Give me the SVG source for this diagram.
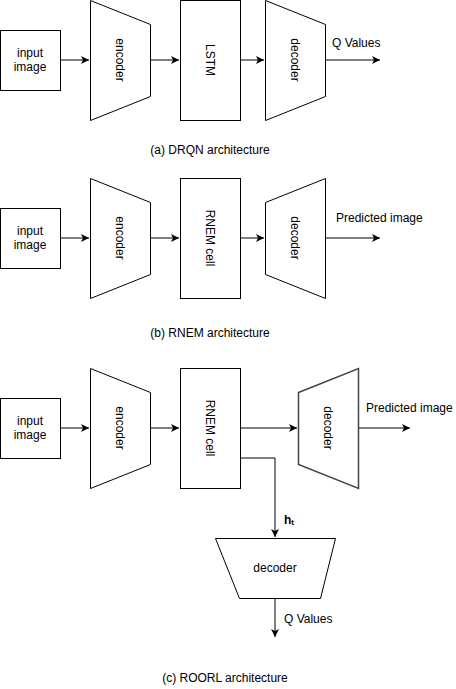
<svg xmlns="http://www.w3.org/2000/svg" width="456" height="689" viewBox="0 0 456 689">
<defs>
<marker id="arr" markerWidth="10" markerHeight="10" refX="8" refY="4" orient="auto" markerUnits="userSpaceOnUse">
<path d="M0,0 L8,4 L0,8 L2,4 Z" fill="#000"/>
</marker>
</defs>
<style>
.shape{fill:#fff;stroke:#000;stroke-width:1}
.gray{stroke:#444;stroke-width:1.5}
.t{font-family:"Liberation Sans",Arial,sans-serif;font-size:12px;fill:#000}
.c{text-anchor:middle}
.conn{fill:none;stroke:#000;stroke-width:1;marker-end:url(#arr)}
</style>
<rect width="456" height="689" fill="#fff"/>

<g id="connectors">
<path class="conn" d="M60,60 L89,60"/>
<path class="conn" d="M150,60 L179,60"/>
<path class="conn" d="M240,60 L264,60"/>
<path class="conn" d="M325,60 L380,60"/>
<path class="conn" d="M60,238 L89,238"/>
<path class="conn" d="M150,238 L179,238"/>
<path class="conn" d="M240,238 L264,238"/>
<path class="conn" d="M325,238 L380,238"/>
<path class="conn" d="M60,428 L89,428"/>
<path class="conn" d="M150,428 L179,428"/>
<path class="conn" d="M240,428 L297,428"/>
<path class="conn" d="M358,428 L410,428"/>
<path class="conn" d="M240,458 L275,458 L275,537"/>
<path class="conn" d="M275,598 L275,637"/>
</g>

<g id="labels">
<text class="t" x="332" y="47">Q Values</text>
<text class="t" x="336" y="222">Predicted image</text>
<text class="t" x="366" y="412">Predicted image</text>
<text class="t" x="284" y="524" font-weight="bold">h<tspan font-size="8" dy="1">t</tspan></text>
<text class="t" x="284" y="623">Q Values</text>
</g>

<g id="input1"><rect class="shape" x="0.5" y="30.5" width="60" height="60"/><text class="t c" x="30" y="57">input</text><text class="t c" x="30" y="71">image</text></g>
<g id="encoder1"><path class="shape" d="M90.5,0.5 L150.5,24.5 L150.5,96.5 L90.5,120.5 Z"/><text class="t c" transform="translate(120,60) rotate(90)" y="4">encoder</text></g>
<g id="lstm"><rect class="shape" x="180.5" y="0.5" width="60" height="120"/><text class="t c" transform="translate(210,60) rotate(90)" y="4">LSTM</text></g>
<g id="decoder1"><path class="shape" d="M265.5,0.5 L325.5,24.5 L325.5,96.5 L265.5,120.5 Z"/><text class="t c" transform="translate(295,60) rotate(90)" y="4">decoder</text></g>
<text class="t c" x="210" y="154">(a) DRQN architecture</text>

<g id="input2"><rect class="shape" x="0.5" y="208.5" width="60" height="60"/><text class="t c" x="30" y="235">input</text><text class="t c" x="30" y="249">image</text></g>
<g id="encoder2"><path class="shape" d="M90.5,178.5 L150.5,202.5 L150.5,274.5 L90.5,298.5 Z"/><text class="t c" transform="translate(120,238) rotate(90)" y="4">encoder</text></g>
<g id="rnem2"><rect class="shape" x="180.5" y="178.5" width="60" height="120"/><text class="t c" transform="translate(210,238) rotate(90)" y="4">RNEM cell</text></g>
<g id="decoder2"><path class="shape" d="M265.5,202.5 L325.5,178.5 L325.5,298.5 L265.5,274.5 Z"/><text class="t c" transform="translate(295,238) rotate(90)" y="4">decoder</text></g>
<text class="t c" x="210" y="337">(b) RNEM architecture</text>

<g id="input3"><rect class="shape" x="0.5" y="398.5" width="60" height="60"/><text class="t c" x="30" y="425">input</text><text class="t c" x="30" y="439">image</text></g>
<g id="encoder3"><path class="shape" d="M90.5,368.5 L150.5,392.5 L150.5,464.5 L90.5,488.5 Z"/><text class="t c" transform="translate(120,428) rotate(90)" y="4">encoder</text></g>
<g id="rnem3"><rect class="shape" x="180.5" y="368.5" width="60" height="120"/><text class="t c" transform="translate(210,428) rotate(90)" y="4">RNEM cell</text></g>
<g id="decoder3"><path class="shape gray" d="M298.5,392.5 L358.5,368.5 L358.5,488.5 L298.5,464.5 Z"/><text class="t c" transform="translate(328,428) rotate(90)" y="4">decoder</text></g>
<g id="decoder4"><path class="shape" d="M215.5,538.5 L335.5,538.5 L320.5,598.5 L239.5,598.5 Z"/><text class="t c" x="275" y="572">decoder</text></g>
<text class="t c" x="225" y="682">(c) ROORL architecture</text>
</svg>
